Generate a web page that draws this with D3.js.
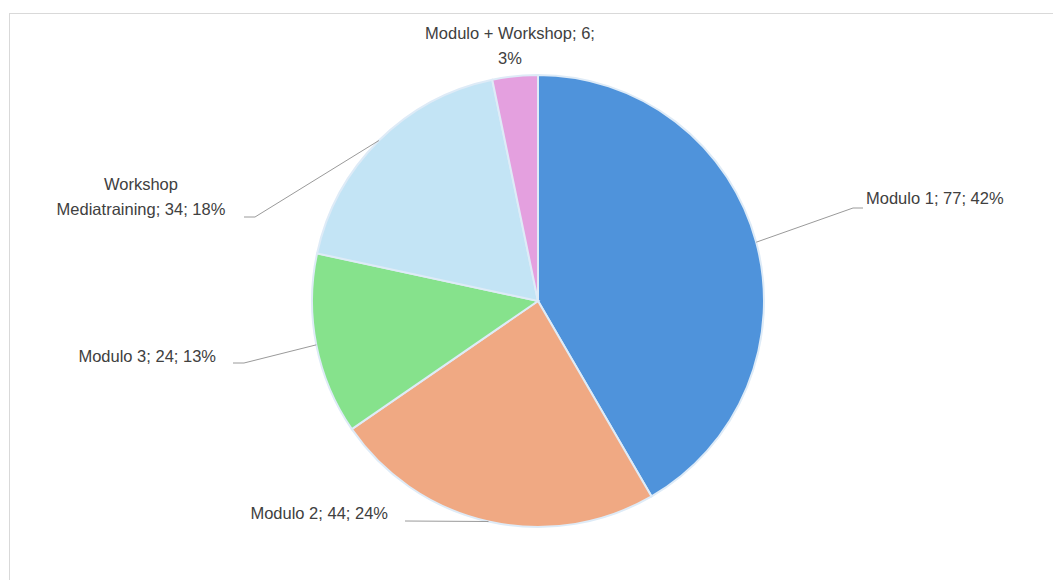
<!DOCTYPE html>
<html lang="en">
<head>
	<meta charset="UTF-8">
	<title>Moduli</title>
	<style>
		html, body {
			margin: 0;
			background: #fff;
		}
		svg text {
			font-family: 'Liberation Sans', Arial, sans-serif;
			font-size: 16.5px;
			fill: #404040;
		}
	</style>
	<script src="https://cdn.jsdelivr.net/npm/d3@7"></script>
</head>
<body>
	<svg id="container"></svg>
	<script>
		// slice data, clockwise from 12 o'clock
		const categories = ['Modulo 1', 'Modulo 2', 'Modulo 3', 'Workshop Mediatraining', 'Modulo + Workshop'];
		const values = [77, 44, 24, 34, 6];
		const colors = ['#4f93db', '#f0a983', '#86e28c', '#c3e4f5', '#e4a0df'];
		// label text lines
		const labelLines = [
			['Modulo 1; 77; 42%'],
			['Modulo 2; 44; 24%'],
			['Modulo 3; 24; 13%'],
			['Workshop', 'Mediatraining; 34; 18%'],
			['Modulo + Workshop; 6;', '3%'],
		];

		const config = {
			width: 1053,
			height: 580,
			cx: 538,
			cy: 301,
			r: 226,
		};

		// label placement (elbow of leader line, text anchor)
		const labelLayout = [
			{ elbow: [853, 208], end: [863, 208], tx: 866, ty: 204, anchor: 'start' },
			{ elbow: [405, 521], end: [405, 521], tx: 388, ty: 519, anchor: 'end' },
			{ elbow: [244, 363], end: [233, 363], tx: 216, ty: 362, anchor: 'end' },
			{ elbow: [255, 217], end: [244, 217], tx: 141, ty: 190, anchor: 'middle' },
			{ elbow: null, end: null, tx: 510, ty: 39, anchor: 'middle' },
		];

		const svg = d3.select('#container')
			.attr('width', config.width)
			.attr('height', config.height);

		// chart frame
		svg.append('rect')
			.attr('x', 9.5)
			.attr('y', 13.5)
			.attr('width', 1100)
			.attr('height', 700)
			.attr('fill', 'none')
			.attr('stroke', '#d9d9d9');

		const pie = d3.pie().sort(null).value(d => d);
		const arcs = pie(values);
		const arc = d3.arc().innerRadius(0).outerRadius(config.r);

		const g = svg.append('g').attr('transform', `translate(${config.cx},${config.cy})`);

		g.selectAll('path')
			.data(arcs)
			.enter()
			.append('path')
			.attr('d', arc)
			.attr('fill', (d, i) => colors[i])
			.attr('stroke', '#deebf7')
			.attr('stroke-width', 2);

		// leader lines from slice mid-angle on the rim
		arcs.forEach((d, i) => {
			const lay = labelLayout[i];
			const mid = (d.startAngle + d.endAngle) / 2;
			const px = config.cx + config.r * Math.sin(mid);
			const py = config.cy - config.r * Math.cos(mid);
			if (lay.elbow) {
				svg.append('polyline')
					.attr('points', `${px},${py} ${lay.elbow[0]},${lay.elbow[1]} ${lay.end[0]},${lay.end[1]}`)
					.attr('fill', 'none')
					.attr('stroke', '#9a9a9a')
					.attr('stroke-width', 1);
			}
			const t = svg.append('text')
				.attr('x', lay.tx)
				.attr('y', lay.ty)
				.attr('text-anchor', lay.anchor);
			labelLines[i].forEach((line, j) => {
				t.append('tspan')
					.attr('x', lay.tx)
					.attr('dy', j === 0 ? 0 : 25)
					.text(line);
			});
		});
	</script>
</body>
</html>
